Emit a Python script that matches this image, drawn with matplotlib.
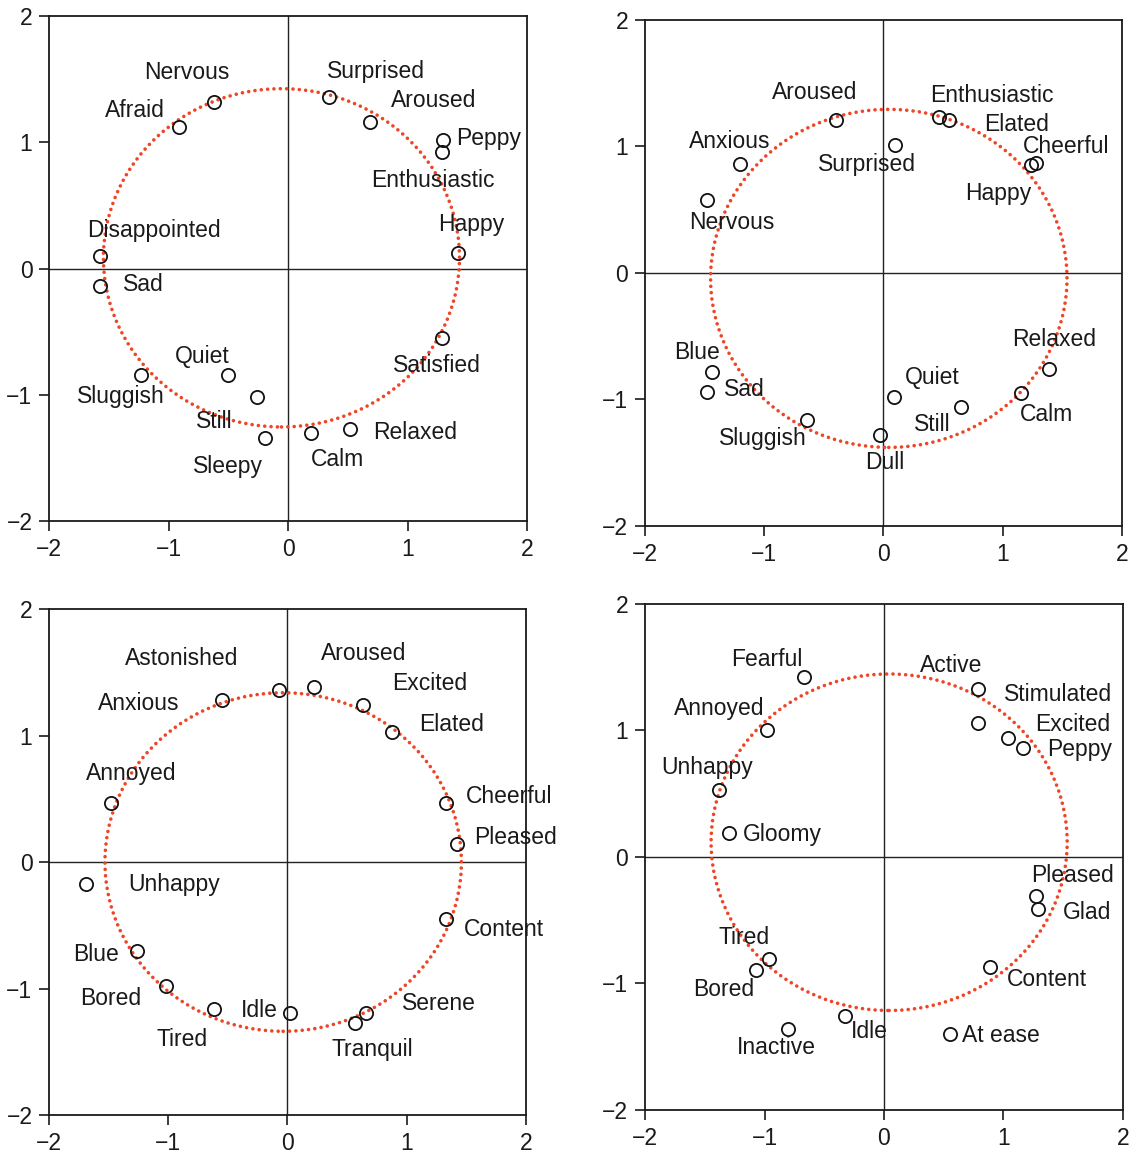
import matplotlib.pyplot as plt
from matplotlib.patches import Ellipse

plt.rcParams['font.family'] = ['Liberation Sans', 'DejaVu Sans']

# panel 1
p1_words = ['Nervous', 'Afraid', 'Surprised', 'Aroused', 'Peppy', 'Enthusiastic', 'Happy',
            'Disappointed', 'Sad', 'Satisfied', 'Sluggish', 'Quiet', 'Still', 'Sleepy',
            'Calm', 'Relaxed']
p1_x = [-0.62, -0.91, 0.34, 0.69, 1.30, 1.29, 1.42, -1.57, -1.57, 1.29, -1.23, -0.50,
        -0.26, -0.19, 0.19, 0.52]
p1_y = [1.32, 1.12, 1.36, 1.16, 1.02, 0.92, 0.12, 0.10, -0.14, -0.55, -0.84, -0.84,
        -1.02, -1.34, -1.30, -1.27]
p1_lx = [-0.85, -1.28, 0.74, 1.22, 1.68, 1.21, 1.53, -1.12, -1.21, 1.25, -1.40, -0.72,
         -0.62, -0.50, 0.41, 1.06]
p1_ly = [1.55, 1.25, 1.56, 1.33, 1.03, 0.70, 0.35, 0.30, -0.13, -0.77, -1.01, -0.70,
         -1.21, -1.57, -1.51, -1.30]

# panel 2
p2_words = ['Aroused', 'Enthusiastic', 'Elated', 'Cheerful', 'Happy', 'Surprised', 'Anxious',
            'Nervous', 'Blue', 'Sad', 'Sluggish', 'Dull', 'Quiet', 'Still', 'Calm', 'Relaxed']
p2_x = [-0.40, 0.47, 0.55, 1.28, 1.24, 0.10, -1.20, -1.48, -1.44, -1.48, -0.64, -0.03,
        0.09, 0.65, 1.15, 1.39]
p2_y = [1.21, 1.23, 1.21, 0.87, 0.85, 1.01, 0.86, 0.58, -0.78, -0.94, -1.16, -1.28,
        -0.98, -1.06, -0.95, -0.76]
p2_lx = [-0.58, 0.91, 1.12, 1.53, 0.96, -0.14, -1.29, -1.27, -1.56, -1.17, -1.01, 0.01,
         0.41, 0.41, 1.37, 1.43]
p2_ly = [1.43, 1.40, 1.17, 1.00, 0.63, 0.86, 1.04, 0.40, -0.63, -0.92, -1.31, -1.50,
         -0.83, -1.20, -1.12, -0.53]

# panel 3
p3_words = ['Anxious', 'Astonished', 'Aroused', 'Excited', 'Elated', 'Cheerful', 'Pleased',
            'Content', 'Annoyed', 'Unhappy', 'Blue', 'Bored', 'Tired', 'Idle', 'Tranquil',
            'Serene']
p3_x = [-0.55, -0.07, 0.22, 0.63, 0.88, 1.33, 1.42, 1.33, -1.48, -1.69, -1.26, -1.02,
        -0.62, 0.02, 0.57, 0.66]
p3_y = [1.28, 1.36, 1.38, 1.24, 1.03, 0.47, 0.14, -0.45, 0.47, -0.17, -0.70, -0.98,
        -1.16, -1.19, -1.27, -1.19]
p3_lx = [-1.25, -0.89, 0.64, 1.19, 1.38, 1.86, 1.91, 1.82, -1.31, -0.95, -1.61, -1.48,
         -0.88, -0.24, 0.71, 1.27]
p3_ly = [1.25, 1.61, 1.65, 1.41, 1.09, 0.52, 0.19, -0.53, 0.70, -0.18, -0.73, -1.08,
         -1.40, -1.17, -1.48, -1.12]

# panel 4
p4_words = ['Fearful', 'Annoyed', 'Unhappy', 'Gloomy', 'Active', 'Stimulated', 'Excited',
            'Peppy', 'Pleased', 'Glad', 'Content', 'Tired', 'Bored', 'Idle', 'Inactive',
            'At ease']
p4_x = [-0.67, -0.98, -1.38, -1.30, 0.79, 0.79, 1.04, 1.16, 1.27, 1.29, 0.89, -0.96,
        -1.07, -0.33, -0.80, 0.55]
p4_y = [1.42, 1.00, 0.53, 0.19, 1.33, 1.06, 0.94, 0.86, -0.31, -0.41, -0.87, -0.81,
        -0.89, -1.26, -1.36, -1.40]
p4_lx = [-0.98, -1.38, -1.48, -0.85, 0.56, 1.46, 1.58, 1.64, 1.58, 1.70, 1.36, -1.17,
         -1.34, -0.12, -0.90, 0.98]
p4_ly = [1.56, 1.17, 0.71, 0.18, 1.51, 1.28, 1.05, 0.85, -0.15, -0.44, -0.97, -0.64,
         -1.05, -1.38, -1.51, -1.41]

# fitted circle for each panel: centre x, centre y, half-width, half-height
fits = [(-0.055, 0.085, 1.49, 1.34),
        (0.045, -0.043, 1.495, 1.336),
        (-0.036, 0.0, 1.495, 1.338),
        (0.043, 0.116, 1.49, 1.33)]

panels = [(p1_words, p1_x, p1_y, p1_lx, p1_ly),
          (p2_words, p2_x, p2_y, p2_lx, p2_ly),
          (p3_words, p3_x, p3_y, p3_lx, p3_ly),
          (p4_words, p4_x, p4_y, p4_lx, p4_ly)]

# axes boxes in figure fractions
boxes = [[0.0431, 0.5501, 0.420, 0.436],
         [0.5668, 0.5458, 0.419, 0.437],
         [0.0431, 0.0371, 0.419, 0.437],
         [0.5668, 0.0415, 0.420, 0.437]]

fig = plt.figure(figsize=(11.38, 11.58), dpi=100)

for (words, x, y, lx, ly), box, (cx, cy, rx, ry) in zip(panels, boxes, fits):
    ax = fig.add_axes(box)
    ax.set_xlim(-2, 2)
    ax.set_ylim(-2, 2)
    ax.axhline(0, color='#222222', lw=1.0, zorder=1)
    ax.axvline(0, color='#222222', lw=1.0, zorder=1)
    ell = Ellipse((cx, cy), 2 * rx, 2 * ry, fill=False, edgecolor='#ef4526', lw=2.6,
                  linestyle=(0, (0.01, 1.75)), capstyle='round', zorder=2)
    ax.add_patch(ell)
    ax.plot(x, y, 'o', ms=9.5, mfc='none', mec='#111111', mew=1.3, zorder=3)
    for w, tx, ty in zip(words, lx, ly):
        ax.text(tx, ty, w, ha='center', va='center', fontsize=16.5, color='#1a1a1a', zorder=4)
    ax.set_xticks([-2, -1, 0, 1, 2])
    ax.set_yticks([-2, -1, 0, 1, 2])
    ax.tick_params(direction='out', length=7, width=1.2, labelsize=16.5, pad=5,
                   colors='#1a1a1a')
    for s in ax.spines.values():
        s.set_linewidth(1.3)
        s.set_color('#1a1a1a')

fig.savefig('out.png', dpi=100)
